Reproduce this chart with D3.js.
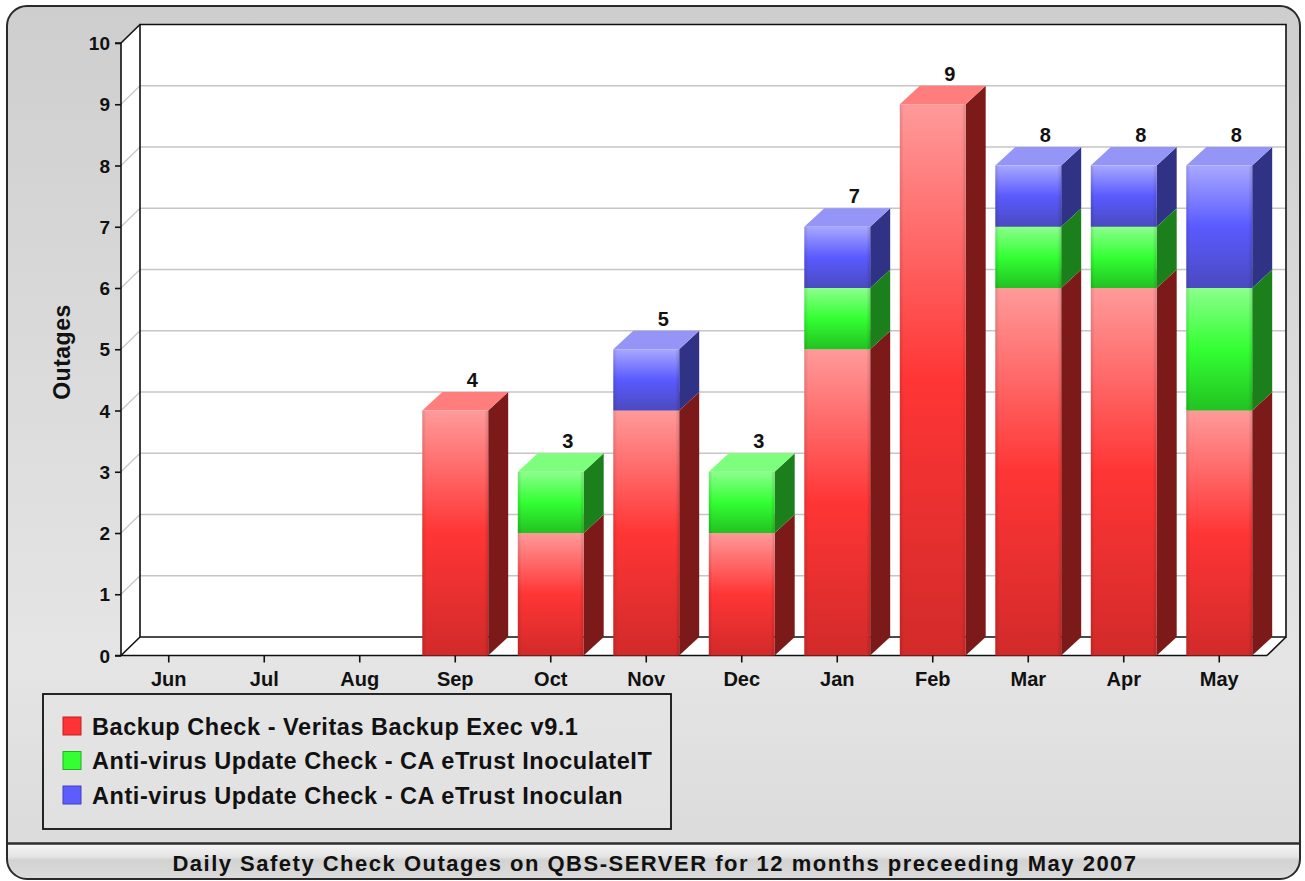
<!DOCTYPE html>
<html>
<head>
<meta charset="utf-8">
<script src="https://cdn.jsdelivr.net/npm/d3@7"></script>
<style>
  html, body { margin: 0; padding: 0; background: #ffffff; }
  svg { display: block; font-family: "Liberation Sans", Arial, sans-serif; font-weight: bold; }
</style>
</head>
<body>
<svg id="chart" width="1305" height="881"></svg>
<script>
// ---- data ----
const months = ["Jun","Jul","Aug","Sep","Oct","Nov","Dec","Jan","Feb","Mar","Apr","May"];
const backupVeritas   = [0,0,0,4,2,4,2,5,9,6,6,4];
const avInoculateIT   = [0,0,0,0,1,0,1,1,0,1,1,2];
const avInoculan      = [0,0,0,0,0,1,0,1,0,1,1,2];
const seriesNames = [
  "Backup Check - Veritas Backup Exec v9.1",
  "Anti-virus Update Check - CA eTrust InoculateIT",
  "Anti-virus Update Check - CA eTrust Inoculan"
];
const yTicks = [0,1,2,3,4,5,6,7,8,9,10];
const chartTitle = "Daily Safety Check Outages on QBS-SERVER for 12 months preceeding May 2007";
const yTitle = "Outages";

// ---- styles ----
const palette = [
  { light: "#ff9a9a", mid: "#ff3535", dark: "#d22a2a", top: "#ff7d7d", side: "#7c1a1a", swatch: "#ff3333", stroke: "#c02020" },
  { light: "#8cff8c", mid: "#33ff33", dark: "#22c222", top: "#7dff7d", side: "#1b7f1b", swatch: "#33ff33", stroke: "#20b020" },
  { light: "#a8a8ff", mid: "#5a5aff", dark: "#4a4ac0", top: "#9595f8", side: "#303385", swatch: "#5c5cff", stroke: "#4040c0" }
];

const svg = d3.select("#chart");
const defs = svg.append("defs");

// frame background gradient
const bg = defs.append("linearGradient").attr("id","bgGrad").attr("x1",0).attr("y1",0).attr("x2",0).attr("y2",1);
bg.append("stop").attr("offset","0").attr("stop-color","#cecece");
bg.append("stop").attr("offset","0.75").attr("stop-color","#e5e5e5");
bg.append("stop").attr("offset","1").attr("stop-color","#d9d9d9");

const tb = defs.append("linearGradient").attr("id","titleGrad").attr("x1",0).attr("y1",0).attr("x2",0).attr("y2",1);
tb.append("stop").attr("offset","0").attr("stop-color","#f6f6f6");
tb.append("stop").attr("offset","0.35").attr("stop-color","#e4e4e4");
tb.append("stop").attr("offset","0.45").attr("stop-color","#d2d2d2");
tb.append("stop").attr("offset","1").attr("stop-color","#dcdcdc");

palette.forEach((p,i) => {
  const g = defs.append("linearGradient").attr("id","front"+i).attr("x1",0).attr("y1",0).attr("x2",0).attr("y2",1);
  g.append("stop").attr("offset","0").attr("stop-color",p.light);
  g.append("stop").attr("offset","0.5").attr("stop-color",p.mid);
  g.append("stop").attr("offset","1").attr("stop-color",p.dark);
});
const edge = defs.append("linearGradient").attr("id","edgeShade").attr("x1",0).attr("y1",0).attr("x2",1).attr("y2",0);
edge.append("stop").attr("offset","0").attr("stop-color","#000").attr("stop-opacity",0.12);
edge.append("stop").attr("offset","0.06").attr("stop-color","#000").attr("stop-opacity",0);
edge.append("stop").attr("offset","0.94").attr("stop-color","#000").attr("stop-opacity",0);
edge.append("stop").attr("offset","1").attr("stop-color","#000").attr("stop-opacity",0.14);

// ---- frame ----
svg.append("rect").attr("x",7).attr("y",6).attr("width",1293).attr("height",873)
  .attr("rx",20).attr("ry",20).attr("fill","url(#bgGrad)").attr("stroke","none");
const clip = defs.append("clipPath").attr("id","frameClip");
clip.append("rect").attr("x",7).attr("y",6).attr("width",1293).attr("height",873).attr("rx",20).attr("ry",20);
svg.append("rect").attr("x",7).attr("y",844).attr("width",1293).attr("height",36)
  .attr("fill","url(#titleGrad)").attr("clip-path","url(#frameClip)");
svg.append("line").attr("x1",8).attr("x2",1299).attr("y1",843.5).attr("y2",843.5)
  .attr("stroke","#2e2e2e").attr("stroke-width",2.5);
svg.append("rect").attr("x",7).attr("y",6).attr("width",1293).attr("height",873)
  .attr("rx",20).attr("ry",20).attr("fill","none").attr("stroke","#2a2a2a").attr("stroke-width",2);

svg.append("text").attr("x",655).attr("y",871).attr("text-anchor","middle")
  .attr("font-size",22).attr("letter-spacing",1.5).attr("fill","#111").text(chartTitle);

// ---- scales ----
const x = d3.scaleBand().domain(months).range([121, 1267]).paddingInner(0).paddingOuter(0);
const y = d3.scaleLinear().domain([0,10]).range([655.5, 43]);
const DX = 19, DY = -18.5;        // wall depth
const BDX = 20, BDY = -18.5;      // bar depth
const barW = x.bandwidth() * 0.69;

const x0 = x.range()[0], x1 = x.range()[1];
const y0 = y(0), yTop = y(10);

// back wall
svg.append("rect").attr("x",x0+DX).attr("y",yTop+DY).attr("width",x1-x0).attr("height",y0-yTop)
  .attr("fill","#ffffff");
// left wall
svg.append("polygon").attr("points",[[x0,y0],[x0,yTop],[x0+DX,yTop+DY],[x0+DX,y0+DY]].map(p=>p.join(",")).join(" "))
  .attr("fill","#ffffff");
// floor
svg.append("polygon").attr("points",[[x0,y0],[x1,y0],[x1+DX,y0+DY],[x0+DX,y0+DY]].map(p=>p.join(",")).join(" "))
  .attr("fill","#ffffff");

// gridlines
const grid = svg.append("g");
yTicks.filter(t => t>0 && t<10).forEach(t => {
  grid.append("line").attr("x1",x0+DX).attr("x2",x1+DX).attr("y1",y(t)+DY).attr("y2",y(t)+DY)
    .attr("stroke","#c6c6c6").attr("stroke-width",1.5);
  grid.append("line").attr("x1",x0).attr("x2",x0+DX).attr("y1",y(t)).attr("y2",y(t)+DY)
    .attr("stroke","#c6c6c6").attr("stroke-width",1.2);
});

// wall outlines
const outline = svg.append("g").attr("stroke","#111").attr("stroke-width",1.6).attr("fill","none");
outline.append("polyline").attr("points",[[x0+DX,y0+DY],[x0+DX,yTop+DY],[x1+DX,yTop+DY],[x1+DX,y0+DY],[x0+DX,y0+DY]].map(p=>p.join(",")).join(" "));
outline.append("line").attr("x1",x0).attr("y1",yTop).attr("x2",x0+DX).attr("y2",yTop+DY);
outline.append("line").attr("x1",x0).attr("y1",y0).attr("x2",x0+DX).attr("y2",y0+DY);
outline.append("line").attr("x1",x1).attr("y1",y0).attr("x2",x1+DX).attr("y2",y0+DY);
outline.append("line").attr("x1",x0).attr("y1",y0).attr("x2",x1).attr("y2",y0);

// ---- bars ----
const stackData = months.map((m,i) => ({ month: m, vals: [backupVeritas[i], avInoculateIT[i], avInoculan[i]] }));
const bars = svg.append("g");
stackData.forEach(d => {
  const cx = x(d.month) + x.bandwidth()/2;
  const bx = cx - barW/2;
  let acc = 0;
  d.vals.forEach((v, si) => {
    if (v <= 0) return;
    const yb = y(acc), yt = y(acc+v);
    acc += v;
    const p = palette[si];
    bars.append("polygon")
      .attr("points",[[bx+barW,yb],[bx+barW,yt],[bx+barW+BDX,yt+BDY],[bx+barW+BDX,yb+BDY]].map(q=>q.join(",")).join(" "))
      .attr("fill",p.side);
    bars.append("polygon")
      .attr("points",[[bx,yt],[bx+barW,yt],[bx+barW+BDX,yt+BDY],[bx+BDX,yt+BDY]].map(q=>q.join(",")).join(" "))
      .attr("fill",p.top);
    bars.append("rect").attr("x",bx).attr("y",yt).attr("width",barW).attr("height",yb-yt)
      .attr("fill","url(#front"+si+")");
    bars.append("rect").attr("x",bx).attr("y",yt).attr("width",barW).attr("height",yb-yt)
      .attr("fill","url(#edgeShade)");
  });
  if (acc > 0) {
    svg.append("text").attr("x",cx+BDX-3).attr("y",y(acc)+BDY-5).attr("text-anchor","middle")
      .attr("font-size",20).attr("fill","#111").text(acc);
  }
});

// ---- axes ----
const yAxis = d3.axisLeft(y).tickValues(yTicks).tickSize(6).tickPadding(5).tickFormat(d3.format("d"));
const gy = svg.append("g").attr("transform",`translate(${x0},0)`).call(yAxis);
gy.select(".domain").attr("stroke","#111").attr("stroke-width",1.6).attr("d",`M-6,${yTop}H0V${y0}H-6`);
gy.selectAll(".tick line").attr("stroke","#111").attr("stroke-width",1.6);
gy.selectAll(".tick text").attr("font-size",19).attr("font-family","Liberation Sans, Arial, sans-serif")
  .attr("font-weight","bold").attr("fill","#111").attr("dy","0.35em");

const xAxis = d3.axisBottom(x).tickSize(7).tickPadding(9);
const gx = svg.append("g").attr("transform",`translate(0,${y0})`).call(xAxis);
gx.select(".domain").remove();
gx.selectAll(".tick line").attr("stroke","#111").attr("stroke-width",1.6);
gx.selectAll(".tick text").attr("font-size",20).attr("font-family","Liberation Sans, Arial, sans-serif")
  .attr("font-weight","bold").attr("fill","#111");

svg.append("text").attr("transform","translate(70,352) rotate(-90)").attr("text-anchor","middle")
  .attr("font-size",23).attr("letter-spacing",0.5).attr("fill","#111").text(yTitle);

// ---- legend ----
const lg = svg.append("g");
lg.append("rect").attr("x",43).attr("y",694).attr("width",628).attr("height",135)
  .attr("fill","#e6e6e6").attr("fill-opacity",0.5).attr("stroke","#111").attr("stroke-width",1.8);
seriesNames.forEach((name,i) => {
  const cy = 726 + i*34.5;
  lg.append("rect").attr("x",63).attr("y",cy-9).attr("width",18).attr("height",18)
    .attr("fill",palette[i].swatch).attr("stroke",palette[i].stroke).attr("stroke-width",1);
  lg.append("text").attr("x",92).attr("y",cy+8.5).attr("font-size",23.5).attr("letter-spacing",0.55)
    .attr("fill","#111").text(name);
});
</script>
</body>
</html>
